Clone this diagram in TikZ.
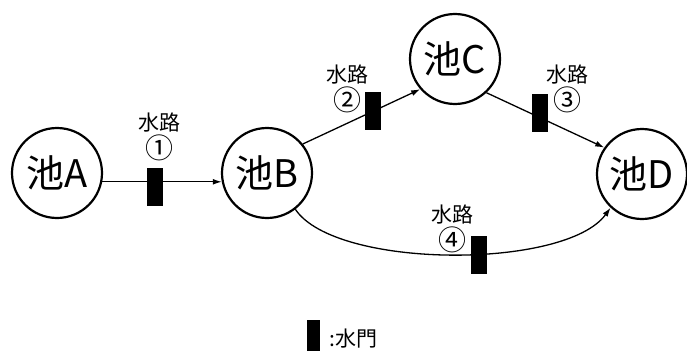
\documentclass[tikz,border=0pt]{standalone}
\usepackage{fontspec}
\setmainfont{Noto Sans CJK JP}
\usetikzlibrary{arrows.meta,positioning}

\newcommand{\gatenum}[1]{{\fontsize{28}{29}\selectfont #1}}

\begin{document}
\begin{tikzpicture}[
    x=1pt, y=-1pt,
    pond/.style={circle, draw, line width=2.2pt, minimum size=90pt, inner sep=0pt,
                 font=\fontsize{38}{40}\selectfont},
    gate/.style={fill=black, draw=none, minimum width=16pt, minimum height=38pt, inner sep=0pt},
    chan/.style={line width=1.3pt, -{Latex[length=9pt,width=6pt]}},
    lbl/.style={align=center, font=\fontsize{21}{28}\selectfont, inner sep=0pt}
]
\useasboundingbox (0,0) rectangle (687,353);

% Ponds
\node[pond] (A) at (57,173) {池A};
\node[pond] (B) at (267,173) {池B};
\node[pond] (C) at (455,59) {池C};
\node[pond] (D) at (642,174) {池D};

% Channels
\draw[chan] (A.-11) -- (B.191);
\draw[chan] (B.39) -- (C.221);
\draw[chan] (C.-47) -- (D.145);
\draw[chan] (B.-52) .. controls +(40,60) and +(-45,62) .. (D.227);

% Gates on the channels
\foreach \n/\x/\y in {1/155/187, 2/373/111, 3/540/113, 4/479/255} {
    \node[gate] (g\n) at (\x,\y) {};
}

% Channel labels
\node[lbl] (l1) at (159,137) {水路\\\gatenum{①}};
\node[lbl] (l2) at (347,89) {水路\\\gatenum{②}};
\node[lbl] (l3) at (567,89) {水路\\\gatenum{③}};
\node[lbl] (l4) at (452,229) {水路\\\gatenum{④}};

% Legend
\node[gate, minimum width=13pt, minimum height=31pt] (lg) at (313,335) {};
\node[lbl, anchor=west] (lt) at (329,339) {:水門};

\end{tikzpicture}
\end{document}
